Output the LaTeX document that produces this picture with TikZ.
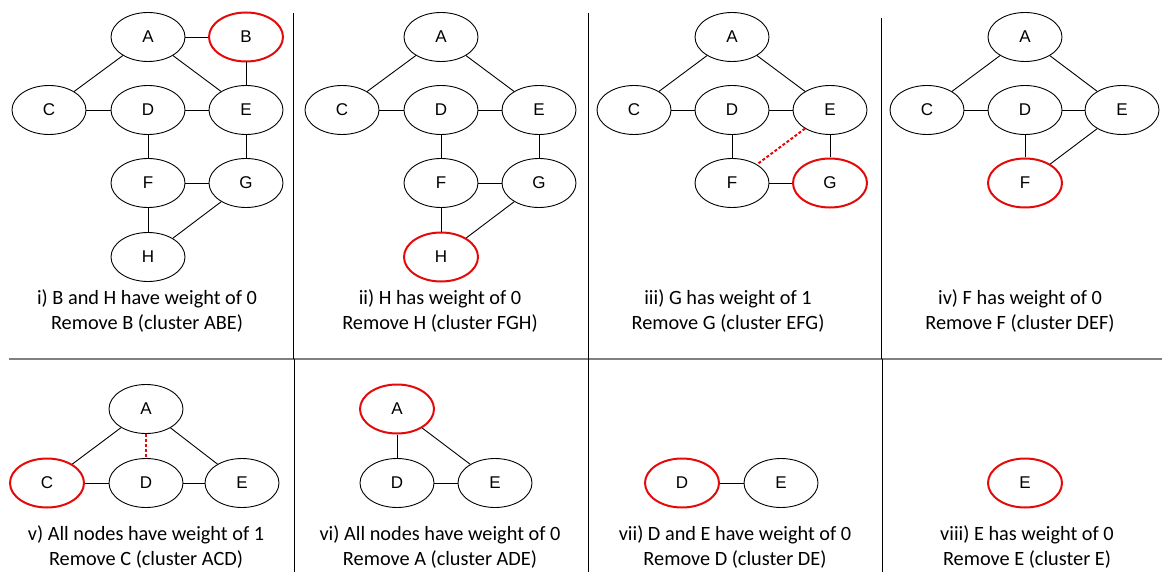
\documentclass[tikz,border=0pt]{standalone}
\usepackage{fontspec}
\setmainfont{Carlito}
\newfontfamily\nodefont{Liberation Sans}
\usetikzlibrary{shapes.geometric}
\definecolor{redc}{RGB}{228,10,10}
\begin{document}
\begin{tikzpicture}[x=1pt,y=-1pt,
  vnode/.style={ellipse,draw=black,line width=0.9pt,minimum width=74pt,minimum height=49pt,inner sep=0pt,font=\nodefont\fontsize{17}{17}\selectfont},
  hot/.style={vnode,draw=redc,line width=2pt},
  edge/.style={draw=black,line width=0.9pt},
  redge/.style={draw=redc,line width=2pt,dash pattern=on 3pt off 2pt},
  capt/.style={align=center,font=\fontsize{20.3}{24.5}\selectfont,inner sep=0pt},
  sepline/.style={draw=black,line width=1pt},
  hsep/.style={draw=gray,line width=2pt}]
\useasboundingbox (0,0) rectangle (1164,572);

% separators
\draw[hsep] (9,359) -- (1162,359);
\draw[sepline] (293,13) -- (293,359);
\draw[sepline] (588,13) -- (588,359);
\draw[sepline] (881,18) -- (881,359);
\draw[sepline] (294,359) -- (294,572);
\draw[sepline] (588,359) -- (588,572);
\draw[sepline] (882,359) -- (882,572);

% panel i
\node[vnode] (iA) at (148,37) {A};
\node[hot]   (iB) at (246,37) {B};
\node[vnode] (iC) at (49,110) {C};
\node[vnode] (iD) at (148,110) {D};
\node[vnode] (iE) at (246,110) {E};
\node[vnode] (iF) at (148,183) {F};
\node[vnode] (iG) at (246,183) {G};
\node[vnode] (iH) at (148,257) {H};
\draw[edge] (iA) -- (iB);
\draw[edge] (iA) -- (iC);
\draw[edge] (iA) -- (iE);
\draw[edge] (iB) -- (iE);
\draw[edge] (iC) -- (iD);
\draw[edge] (iD) -- (iE);
\draw[edge] (iD) -- (iF);
\draw[edge] (iE) -- (iG);
\draw[edge] (iF) -- (iG);
\draw[edge] (iF) -- (iH);
\draw[edge] (iG) -- (iH);
\node[capt] (icap) at (147,311) {i) B and H have weight of 0\\Remove B (cluster ABE)};

% panel ii
\node[vnode] (iiA) at (441,37) {A};
\node[vnode] (iiC) at (342,110) {C};
\node[vnode] (iiD) at (441,110) {D};
\node[vnode] (iiE) at (539,110) {E};
\node[vnode] (iiF) at (441,183) {F};
\node[vnode] (iiG) at (539,183) {G};
\node[hot]   (iiH) at (441,257) {H};
\draw[edge] (iiA) -- (iiC);
\draw[edge] (iiA) -- (iiE);
\draw[edge] (iiC) -- (iiD);
\draw[edge] (iiD) -- (iiE);
\draw[edge] (iiD) -- (iiF);
\draw[edge] (iiE) -- (iiG);
\draw[edge] (iiF) -- (iiG);
\draw[edge] (iiF) -- (iiH);
\draw[edge] (iiG) -- (iiH);
\node[capt] (iicap) at (440,311) {ii) H has weight of 0\\Remove H (cluster FGH)};

% panel iii
\node[vnode] (iiiA) at (732,37) {A};
\node[vnode] (iiiC) at (634,110) {C};
\node[vnode] (iiiD) at (732,110) {D};
\node[vnode] (iiiE) at (830,110) {E};
\node[vnode] (iiiF) at (732,183) {F};
\node[hot]   (iiiG) at (830,183) {G};
\draw[edge] (iiiA) -- (iiiC);
\draw[edge] (iiiA) -- (iiiE);
\draw[edge] (iiiC) -- (iiiD);
\draw[edge] (iiiD) -- (iiiE);
\draw[edge] (iiiD) -- (iiiF);
\draw[edge] (iiiE) -- (iiiG);
\draw[edge] (iiiF) -- (iiiG);
\draw[redge] (iiiE) -- (iiiF);
\node[capt] (iiicap) at (728,311) {iii) G has weight of 1\\Remove G (cluster EFG)};

% panel iv
\node[vnode] (ivA) at (1025,37) {A};
\node[vnode] (ivC) at (927,110) {C};
\node[vnode] (ivD) at (1025,110) {D};
\node[vnode] (ivE) at (1122,110) {E};
\node[hot]   (ivF) at (1025,183) {F};
\draw[edge] (ivA) -- (ivC);
\draw[edge] (ivA) -- (ivE);
\draw[edge] (ivC) -- (ivD);
\draw[edge] (ivD) -- (ivE);
\draw[edge] (ivD) -- (ivF);
\draw[edge] (ivE) -- (ivF);
\node[capt] (ivcap) at (1020,311) {iv) F has weight of 0\\Remove F (cluster DEF)};

% panel v
\node[vnode] (vA) at (146,409) {A};
\node[hot]   (vC) at (47,483) {C};
\node[vnode] (vD) at (146,483) {D};
\node[vnode] (vE) at (242,483) {E};
\draw[edge] (vA) -- (vC);
\draw[edge] (vA) -- (vE);
\draw[edge] (vC) -- (vD);
\draw[edge] (vD) -- (vE);
\draw[redge] (vA) -- (vD);
\node[capt] (vcap) at (146,547) {v) All nodes have weight of 1\\Remove C (cluster ACD)};

% panel vi
\node[hot]   (viA) at (397,409) {A};
\node[vnode] (viD) at (397,483) {D};
\node[vnode] (viE) at (495,483) {E};
\draw[edge] (viA) -- (viD);
\draw[edge] (viA) -- (viE);
\draw[edge] (viD) -- (viE);
\node[capt] (vicap) at (440,547) {vi) All nodes have weight of 0\\Remove A (cluster ADE)};

% panel vii
\node[hot]   (viiD) at (682,483) {D};
\node[vnode] (viiE) at (781,483) {E};
\draw[edge] (viiD) -- (viiE);
\node[capt] (viicap) at (735,547) {vii) D and E have weight of 0\\Remove D (cluster DE)};

% panel viii
\node[hot] (viiiE) at (1025,483) {E};
\node[capt] (viiicap) at (1027,547) {viii) E has weight of 0\\Remove E (cluster E)};
\end{tikzpicture}
\end{document}
